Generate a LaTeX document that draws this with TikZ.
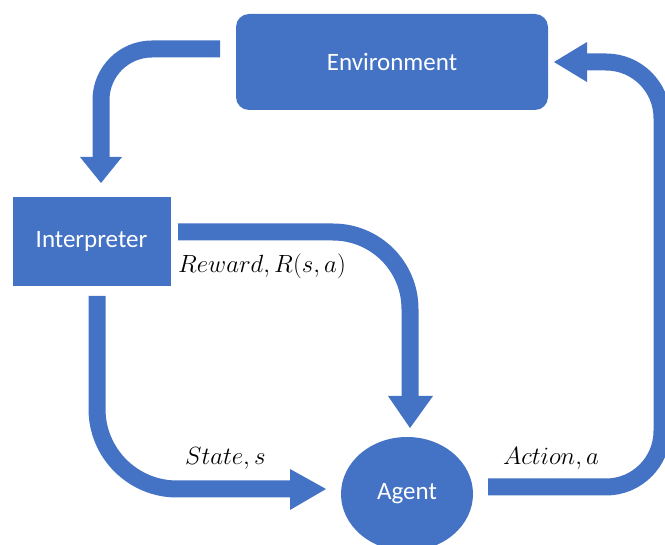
\RequirePackage{fix-cm}
\documentclass[tikz,border=0pt]{standalone}
\usepackage[no-math]{fontspec}
\setmainfont{Carlito}
\usetikzlibrary{shapes.geometric}
\definecolor{officeblue}{HTML}{4472C4}
\tikzset{
  band/.style={draw=officeblue, line width=17pt, rounded corners=#1},
  tiphead/.style={fill=officeblue},
  box/.style={fill=officeblue, text=white, inner sep=0pt,
    font=\fontsize{25}{30}\selectfont},
  lab/.style={inner sep=0pt, anchor=base west, font=\fontsize{24.88}{30}\selectfont}
}
\begin{document}
\begin{tikzpicture}[x=1pt,y=-1pt]
\useasboundingbox (0,0) rectangle (665,545);
\clip (0,0) rectangle (665,545);

% nodes
\node[box, rounded corners=13pt, minimum width=312pt, minimum height=96pt] (env) at (392,62) {Environment};
\node[box, minimum width=158pt, minimum height=89pt] (interp) at (91.5,241.5) {Interpreter};
\node[box, ellipse, minimum width=132pt, minimum height=114pt] (agent) at (407,494) {Agent};

% connector ends
\coordinate (envOut) at (220,49);
\coordinate (intIn)  at (101,157);
\coordinate (rwOut)  at (178,232);
\coordinate (rwIn)   at (410,396);
\coordinate (stOut)  at (97,296);
\coordinate (stIn)   at (290,489);
\coordinate (acOut)  at (488,487);
\coordinate (acIn)   at (587,62);

% Environment -> Interpreter
\draw[band=51] (envOut) -- (101,49) -- (intIn);
\fill[tiphead] (80,157) -- (122,157) -- (101,183) -- cycle;

% Interpreter -> Agent (reward)
\draw[band=77] (rwOut) -- (410,232) -- (rwIn);
\fill[tiphead] (388,396) -- (433,396) -- (410,428) -- cycle;

% Interpreter -> Agent (state)
\draw[band=80] (stOut) -- (97,489) -- (stIn);
\fill[tiphead] (290,469) -- (290,510) -- (326,489) -- cycle;

% Agent -> Environment (action)
\draw[band=56] (acOut) -- (662,487) -- (662,62) -- (acIn);
\fill[tiphead] (587,42) -- (587,82) -- (554,62) -- cycle;

% labels
\node[lab] (rwlab) at (178,273) {$Reward, R(s,a)$};
\node[lab] (stlab) at (185,465) {$State, s$};
\node[lab] (aclab) at (503,465) {$Action, a$};
\end{tikzpicture}
\end{document}
